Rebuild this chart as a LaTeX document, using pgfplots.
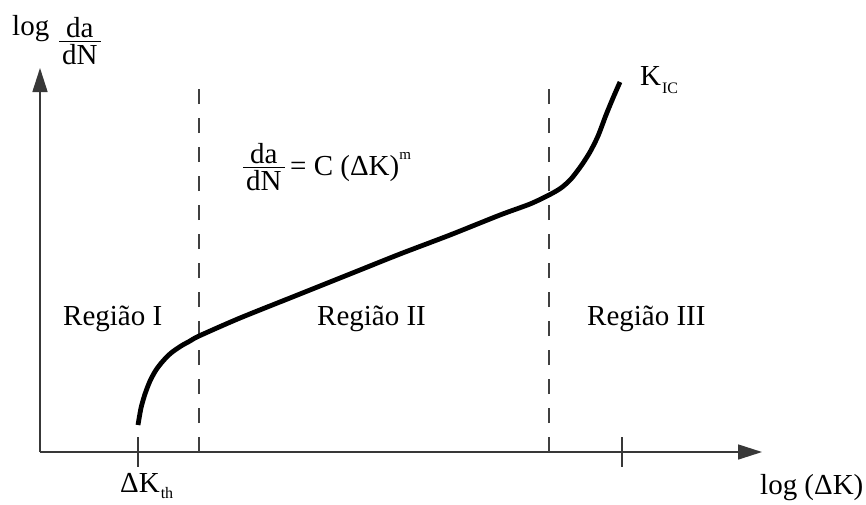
\documentclass[border=0pt]{standalone}
\usepackage{fontspec}
\setmainfont{Liberation Serif}
\usepackage{pgfplots}
\pgfplotsset{compat=1.18}
\usetikzlibrary{arrows.meta}

% stacked fraction set in the text font, baseline on the numerator
\newcommand{\ffrac}[2]{%
  \vtop{\offinterlineskip\halign{\hfil\kern3pt##\kern3pt\hfil\cr
    #1\cr\noalign{\kern3.5pt\hrule height 1.3pt\kern2pt}#2\cr}}}

\begin{document}
\begin{tikzpicture}
\begin{axis}[
  scale only axis, width=866pt, height=504pt,
  xmin=0, xmax=866, ymin=0, ymax=504, y dir=reverse,
  hide axis, clip=false,
]
% axes with arrow heads
\addplot[draw=black!78, line width=1.6pt, -{Triangle[length=24pt,width=15pt]}]
  coordinates {(40,452) (40,68)};
\addplot[draw=black!78, line width=1.6pt, -{Triangle[length=24pt,width=15pt]}]
  coordinates {(40,452) (762,452)};
% ticks at Delta K_th and K_IC
\addplot[draw=black!78, line width=1.3pt] coordinates {(138,437) (138,467)};
\addplot[draw=black!78, line width=1.3pt] coordinates {(622,437) (622,467)};
% region boundaries
\addplot[draw=black!75, line width=1.3pt, dash pattern=on 15pt off 14pt]
  coordinates {(199,452) (199,83)};
\addplot[draw=black!75, line width=1.3pt, dash pattern=on 15pt off 14pt]
  coordinates {(549,452) (549,83)};
% crack growth rate curve
\addplot[black, line width=4.8pt, smooth, tension=0.45] coordinates {
  (138,425) (141,408) (145,394) (150,381) (156,370) (163,361) (171,353)
  (181,346) (190,341) (199,336) (240,318) (300,294) (350,274) (400,254)
  (450,235) (500,215) (530,204) (549,195) (561,188) (571,179) (581,166)
  (590,152) (598,136) (606,115) (613,98) (620,82)};

\begin{scope}[every node/.style={inner sep=0pt, font=\fontsize{29}{33}\selectfont}]
\node[anchor=base west] at (axis cs:12,35) {log};
\node[anchor=base west] at (axis cs:59,37) {\ffrac{da}{dN}};
\node[anchor=base west] at (axis cs:243,163) {\ffrac{da}{dN}};
\node[anchor=base west] at (axis cs:290,175)
  {= C (ΔK)\raisebox{16pt}{\fontsize{15}{15}\selectfont m}};
\node[anchor=base west] at (axis cs:640,85)
  {K\raisebox{-8pt}{\fontsize{16}{16}\selectfont\kern1pt IC}};
\node[anchor=base west] at (axis cs:63,325) {Região I};
\node[anchor=base west] at (axis cs:317,325) {Região II};
\node[anchor=base west] at (axis cs:587,325) {Região III};
\node[anchor=base west] at (axis cs:120,492)
  {ΔK\raisebox{-6pt}{\fontsize{16}{16}\selectfont\kern1pt th}};
\node[anchor=base west] at (axis cs:760,494) {log (ΔK)};
\end{scope}
\end{axis}
\pgfresetboundingbox
\useasboundingbox (0,0) rectangle (866pt,504pt);
\end{tikzpicture}
\end{document}
